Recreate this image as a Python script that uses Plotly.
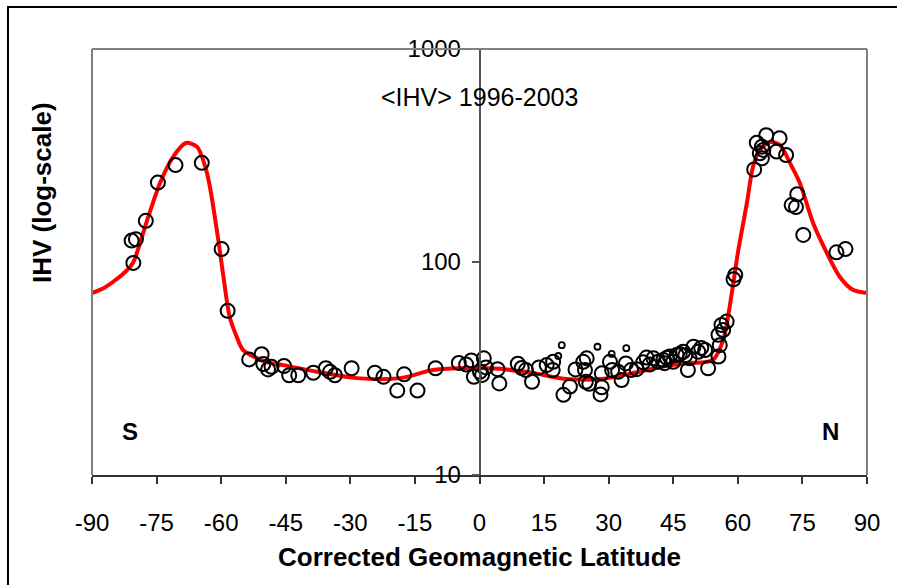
import plotly.graph_objects as go

# Fitted curve (red)
curve_lat = [-90, -87, -85, -82.5, -80.5, -77.2, -74.2, -71.2, -68.2, -65.6, -63.3, -61, -59.6, -58, -56.4,
             -54.9, -49.4, -45.6, -37.7, -28.5, -18.5, -10.8, -2.9, 4.8, 12.4, 20.3, 28, 35.7, 41.9, 48, 52,
             54.2, 56.6, 58.6, 60, 62.1, 63.5, 65.1, 67.5, 69.8, 72.1, 74.4, 77.5, 80.7, 83.7, 86.7, 90]
curve_val = [71.5, 76, 81, 89, 99, 157, 235, 311, 362, 347, 262, 141, 89, 55, 44.6,
             38.6, 33.9, 32.8, 30.5, 28.5, 28.5, 31.1, 31.8, 31.5, 30.1, 28.2, 28.2, 30.1, 32.1, 33.5, 33.8,
             34.7, 43, 71.5, 110, 189, 279, 336, 366, 354, 292, 235, 152, 110, 85, 74, 71.5]

# Observations (large circles)
obs_lat = [-80.4, -80.8, -79.8, -77.5, -74.7, -70.6, -64.5, -59.9, -58.5,
           -53.5, -50.6, -50.2, -49.1, -48.3, -45.4, -44.2, -42.1, -38.6, -35.7, -34.7, -33.6, -29.7,
           -24.3, -22.3, -17.5, -19.1, -14.4, -10.2, -4.8, -3.1, -1.9, -1.3, 0.1, 1.0, 0.6, 1.5,
           4.2, 4.6, 8.9, 9.8, 10.8, 12.2, 13.8, 15.6, 17.0, 17.1, 19.5, 21.0, 22.3, 24.1, 24.5,
           24.9, 24.7, 25.5, 28.4, 28.4, 28.1, 30.3, 30.8, 32.2, 33.0, 34.0, 35.2, 36.5, 38.0, 38.8,
           39.5, 40.4, 41.5, 42.7, 43.0, 43.5, 44.2, 45.0, 45.8, 46.5, 47.3, 47.8, 48.8, 49.7, 50.8,
           51.5, 52.4, 48.4, 53.1, 55.5, 55.8, 55.5, 56.2, 57.4, 56.6,
           59.0, 59.4, 63.8, 64.4, 65.6, 66.6, 65.1, 65.9, 65.6, 69.7, 69.0, 71.2, 73.8, 72.5, 73.5,
           75.2, 82.9, 85.0]
obs_val = [99, 126, 128, 156, 236, 285, 292, 115, 59,
           34.9, 36.9, 33.2, 31.3, 32.2, 32.5, 29.4, 29.4, 30.2, 31.7, 30.5, 29.4, 31.7,
           30.2, 28.9, 29.7, 24.9, 24.9, 31.7, 33.6, 33.0, 34.5, 28.9, 30.5, 35.3, 29.5, 32.0,
           31.4, 26.9, 33.3, 31.8, 31.1, 27.4, 32.0, 32.8, 31.1, 34.0, 23.8, 26.0, 31.3, 34.0, 31.1,
           35.3, 27.4, 26.8, 30.0, 25.8, 23.9, 34.0, 31.1, 30.5, 27.9, 33.4, 31.1, 31.4, 33.8, 35.6,
           33.0, 35.3, 34.0, 34.7, 33.5, 35.5, 36.0, 34.0, 36.6, 37.0, 37.9, 36.5, 35.3, 40.0, 37.9,
           39.5, 38.6, 31.1, 31.7, 36.0, 40.7, 45.5, 50.6, 52.5, 47.9,
           83, 87, 272, 363, 348, 394, 324, 336, 307, 381, 330, 318, 208, 185, 181,
           134, 111, 115]

# Observations (small circles)
small_lat = [18.3, 19.1, 27.4, 30.7, 34.1]
small_val = [36.2, 40.7, 40.0, 37.0, 39.4]

x_ticks = [-90, -75, -60, -45, -30, -15, 0, 15, 30, 45, 60, 75, 90]
x_tick_text = ["-90", "-75", "-60", "-45", "-30", "-15", "0", "15", "30", "45", "60", "75", "90"]
y_ticks = [10, 100, 1000]
y_tick_text = ["10", "100", "1000"]

FONT = "Liberation Sans, Arial, sans-serif"

fig = go.Figure()
fig.add_trace(go.Scatter(x=curve_lat, y=curve_val, mode="lines",
                         line=dict(color="#FF0000", width=4, shape="spline", smoothing=0.8),
                         hoverinfo="skip", showlegend=False))
fig.add_trace(go.Scatter(x=obs_lat, y=obs_val, mode="markers",
                         marker=dict(symbol="circle-open", size=14, color="black",
                                     line=dict(width=2, color="black")),
                         showlegend=False))
fig.add_trace(go.Scatter(x=small_lat, y=small_val, mode="markers",
                         marker=dict(symbol="circle-open", size=6, color="black",
                                     line=dict(width=1.8, color="black")),
                         showlegend=False))

fig.update_layout(
    width=897, height=585,
    margin=dict(l=92, r=30, t=49, b=110),
    paper_bgcolor="white", plot_bgcolor="white",
    font=dict(family=FONT, color="black"),
    xaxis=dict(range=[-90, 90], tickvals=x_ticks, ticktext=x_tick_text, ticks="outside", ticklen=7,
               tickwidth=1.5, tickcolor="#333", showline=True, linecolor="#333", linewidth=2,
               showgrid=False, zeroline=False, tickfont=dict(size=24, family=FONT),
               ticklabelstandoff=18),
    yaxis=dict(type="log", range=[1, 3], tickvals=y_ticks, ticktext=y_tick_text,
               ticks="outside", ticklen=7, tickwidth=1.5, tickcolor="#555",
               showline=True, linecolor="#555", linewidth=1.5, showgrid=False, zeroline=False,
               anchor="free", position=0.5, tickfont=dict(size=24, family=FONT),
               ticklabelstandoff=6),
)

# plot-area frame (gray) on top/left/right
frame = dict(color="#808080", width=2)
fig.add_shape(type="line", xref="paper", yref="paper", x0=0, y0=0, x1=0, y1=1, line=frame)
fig.add_shape(type="line", xref="paper", yref="paper", x0=0, y0=1, x1=1, y1=1, line=frame)
fig.add_shape(type="line", xref="paper", yref="paper", x0=1, y0=1, x1=1, y1=0, line=frame)
# outer chart border (black)
fig.add_shape(type="rect", xref="paper", yref="paper", x0=-0.1084, y0=-1.5, x1=1.5, y1=1.0986,
              line=dict(color="black", width=2), layer="below")

fig.add_annotation(x=0, y=0.887, xref="x", yref="paper", text="&lt;IHV&gt; 1996-2003",
                   showarrow=False, font=dict(size=25, family=FONT), xanchor="center", yanchor="middle")
fig.add_annotation(x=-81.2, y=0.101, xref="x", yref="paper", text="<b>S</b>",
                   showarrow=False, font=dict(size=24, family=FONT), xanchor="center", yanchor="middle")
fig.add_annotation(x=81.6, y=0.101, xref="x", yref="paper", text="<b>N</b>",
                   showarrow=False, font=dict(size=24, family=FONT), xanchor="center", yanchor="middle")
fig.add_annotation(x=0.5, y=-0.1925, xref="paper", yref="paper", text="<b>Corrected Geomagnetic Latitude</b>",
                   showarrow=False, font=dict(size=26, family=FONT), xanchor="center", yanchor="middle")
fig.add_annotation(x=-0.0645, y=0.662, xref="paper", yref="paper", text="<b>IHV (log-scale)</b>",
                   showarrow=False, textangle=-90, font=dict(size=26, family=FONT),
                   xanchor="center", yanchor="middle")

fig.write_html("out.html")
